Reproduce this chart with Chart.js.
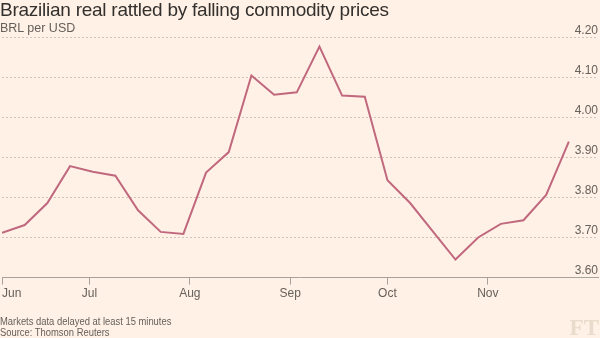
<!DOCTYPE html>
<html>
<head>
<meta charset="utf-8">
<script src="https://cdn.jsdelivr.net/npm/chart.js@4.4.1/dist/chart.umd.min.js"></script>
<style>
  html, body { margin: 0; padding: 0; background: #fff1e5; }
  #wrap { position: relative; width: 600px; height: 338px; overflow: hidden; background: #fff1e5; }
  #chart { position: absolute; left: 0; top: 0; }
  .txt { position: absolute; left: 0; white-space: nowrap; font-family: "Liberation Sans", Arial, sans-serif; line-height: 1.2; }
  #title { top: -1px; font-size: 19px; color: #33302e; letter-spacing: -0.25px; }
  #sub { top: 21px; font-size: 12.5px; color: #66605c; }
  .foot { font-size: 10px; color: #66605c; transform: scaleX(0.94); transform-origin: left top; }
  #foot1 { top: 316px; }
  #foot2 { top: 327px; }
  #logo { left: auto; right: 1px; top: 314px; font-size: 23px; font-weight: bold; color: #eadbcc; font-family: "Liberation Serif", "DejaVu Serif", serif; }
</style>
</head>
<body>
<div id="wrap">
  <canvas id="chart" width="600" height="338"></canvas>
  <div class="txt" id="title">Brazilian real rattled by falling commodity prices</div>
  <div class="txt" id="sub">BRL per USD</div>
  <div class="txt foot" id="foot1">Markets data delayed at least 15 minutes</div>
  <div class="txt foot" id="foot2">Source: Thomson Reuters</div>
  <div class="txt" id="logo">FT</div>
</div>
<script>
/* ---------------- données : BRL par USD, relevés hebdomadaires 2015 ---------------- */
const obsDates = [
  '2015-06-04', '2015-06-11', '2015-06-18', '2015-06-25',
  '2015-07-02', '2015-07-09', '2015-07-16', '2015-07-23', '2015-07-30',
  '2015-08-06', '2015-08-13', '2015-08-20', '2015-08-27',
  '2015-09-03', '2015-09-10', '2015-09-17', '2015-09-24',
  '2015-10-01', '2015-10-08', '2015-10-15', '2015-10-22', '2015-10-29',
  '2015-11-05', '2015-11-12', '2015-11-19', '2015-11-26'
];
const brlPerUsd = [
  3.712, 3.731, 3.786, 3.878,
  3.864, 3.854, 3.768, 3.714, 3.709,
  3.862, 3.913, 4.104, 4.056,
  4.062, 4.176, 4.054, 4.051,
  3.843, 3.786, 3.715, 3.645, 3.700,
  3.734, 3.743, 3.806, 3.939
];
const monthTickDates = ['2015-06-04', '2015-07-01', '2015-08-01', '2015-09-01', '2015-10-01', '2015-11-01'];
const monthLabels = ['Jun', 'Jul', 'Aug', 'Sep', 'Oct', 'Nov'];
const axisEndDate = '2015-12-05';
const yTicks = [3.6, 3.7, 3.8, 3.9, 4.0, 4.1, 4.2];

/* ---------------- helpers ---------------- */
const DAY0 = Date.UTC(2015, 5, 1);
function dayNum(s) {
  const [y, m, d] = s.split('-').map(Number);
  return Math.round((Date.UTC(y, m - 1, d) - DAY0) / 86400000);
}

const points = obsDates.map((d, i) => ({ x: dayNum(d), y: brlPerUsd[i] }));
const tickDays = monthTickDates.map(dayNum);
const xMin = tickDays[0];
const xMax = dayNum(axisEndDate);

const TEXT_GREY = '#66605c';
const AXIS_GREY = '#a7a29c';
const GRID_GREY = '#cdc4ba';

/* ---------------- chart ---------------- */
const ctx = document.getElementById('chart').getContext('2d');
new Chart(ctx, {
  type: 'line',
  data: {
    datasets: [{
      data: points,
      borderColor: '#c0687e',
      borderWidth: 2,
      pointRadius: 0,
      tension: 0,
      fill: false
    }]
  },
  options: {
    responsive: false,
    animation: false,
    layout: { padding: { left: 2, right: 2, top: 37, bottom: 35 } },
    plugins: {
      legend: { display: false },
      tooltip: { enabled: false },
      title: { display: false }
    },
    scales: {
      x: {
        type: 'linear',
        min: xMin,
        max: xMax,
        afterBuildTicks: axis => {
          // ticks aux débuts de mois + un repère vide en fin d'axe
          axis.ticks = tickDays.map(v => ({ value: v })).concat([{ value: xMax }]);
        },
        ticks: {
          autoSkip: false,
          maxRotation: 0,
          align: 'inner',
          padding: 2,
          color: TEXT_GREY,
          font: { family: 'Liberation Sans', size: 12 },
          callback: (v, i) => monthLabels[i] || ''
        },
        grid: {
          display: true,
          drawOnChartArea: false,
          drawTicks: true,
          tickLength: 7,
          tickColor: c => (c.index < tickDays.length ? AXIS_GREY : 'rgba(0,0,0,0)')
        },
        border: { display: true, color: AXIS_GREY, width: 1 }
      },
      y: {
        position: 'right',
        min: 3.6,
        max: 4.2,
        afterBuildTicks: axis => {
          axis.ticks = yTicks.map(v => ({ value: v }));
        },
        ticks: {
          mirror: true,
          padding: 0,
          labelOffset: -6.5,
          color: TEXT_GREY,
          font: { family: 'Liberation Sans', size: 12 },
          callback: v => Number(v).toFixed(2)
        },
        grid: {
          color: GRID_GREY,
          lineWidth: 1,
          drawTicks: false
        },
        border: { display: false, dash: [2, 2] }
      }
    }
  }
});
</script>
</body>
</html>
